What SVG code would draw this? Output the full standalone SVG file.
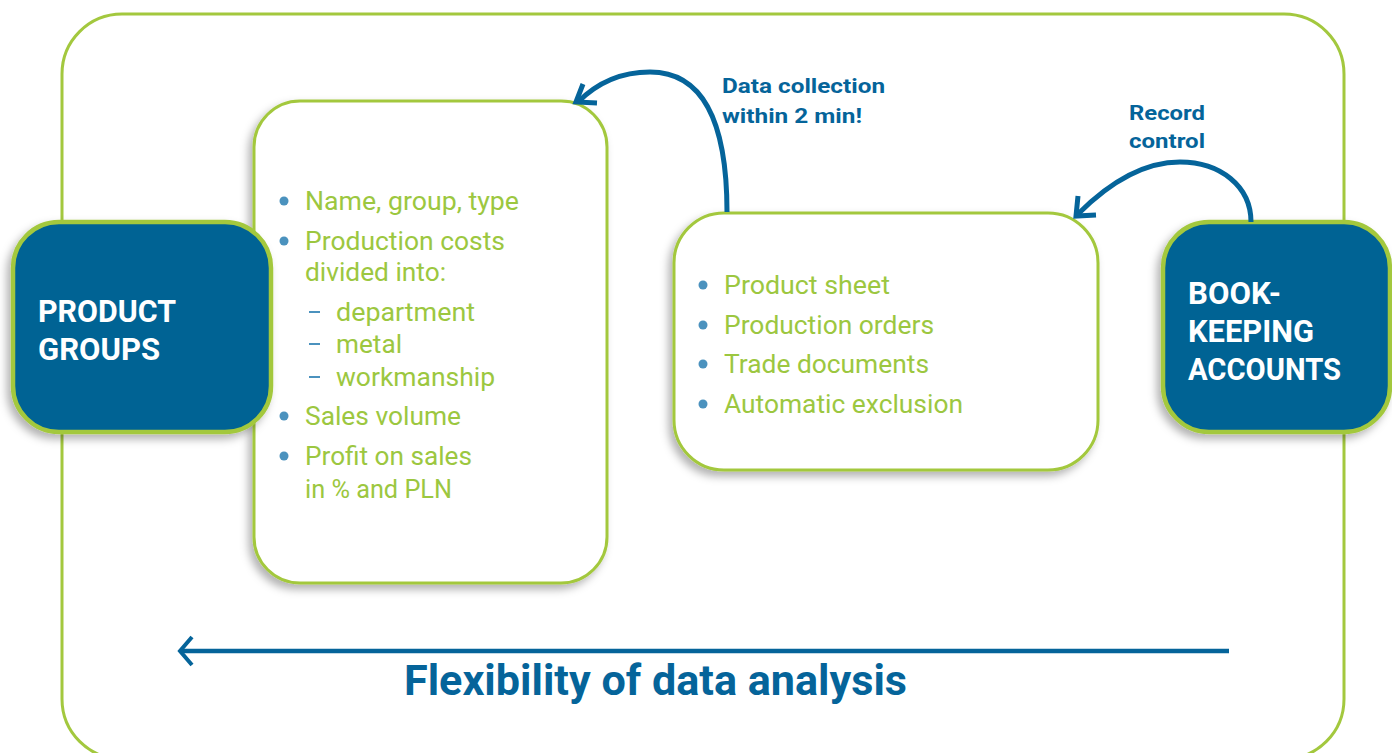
<svg xmlns="http://www.w3.org/2000/svg" width="1392" height="753" viewBox="0 0 1392 753">
<defs>
<filter id="sh" x="-20%" y="-20%" width="140%" height="140%">
<feDropShadow dx="-4" dy="5" stdDeviation="4" flood-color="#000" flood-opacity="0.3"/>
</filter>
<style>
.frame{fill:none;stroke:#a3c83e;stroke-width:3}
.card{fill:#fff;stroke:#a3c83e;stroke-width:3;filter:url(#sh)}
.dark{fill:#006394;stroke:#a3c83e;stroke-width:4.5;filter:url(#sh)}
.item{font-family:Roboto,"Liberation Sans",sans-serif;font-size:26px;fill:#9cc740}
.head{font-family:Roboto,"Liberation Sans",sans-serif;font-weight:bold;font-size:31px;fill:#fff}
.lbl{font-family:Roboto,"Liberation Sans",sans-serif;font-weight:bold;font-size:21px;fill:#05649a}
.dot{fill:#4b92be}
.dash{stroke:#4b92be;stroke-width:2}
.arr{fill:none;stroke:#05649a;stroke-width:5;stroke-linecap:butt}
.head-a{fill:none;stroke:#05649a;stroke-width:5;stroke-linejoin:miter}
</style>
</defs>
<rect width="1392" height="753" fill="#fff"/>
<rect class="frame" x="62" y="14" width="1282" height="745" rx="60"/>
<g id="details-card">
<rect class="card" x="254" y="101" width="353" height="482" rx="46"/>
<circle class="dot" cx="284" cy="201" r="4.5"/>
<text class="item" x="305" y="210" textLength="214" lengthAdjust="spacingAndGlyphs">Name, group, type</text>
<circle class="dot" cx="284" cy="241" r="4.5"/>
<text class="item" x="305" y="250" textLength="200" lengthAdjust="spacingAndGlyphs">Production costs</text>
<text class="item" x="305" y="281" textLength="141" lengthAdjust="spacingAndGlyphs">divided into:</text>
<line class="dash" x1="309" y1="312" x2="320" y2="312"/>
<text class="item" x="336" y="321" textLength="139" lengthAdjust="spacingAndGlyphs">department</text>
<line class="dash" x1="309" y1="344" x2="320" y2="344"/>
<text class="item" x="336" y="353" textLength="66" lengthAdjust="spacingAndGlyphs">metal</text>
<line class="dash" x1="309" y1="377" x2="320" y2="377"/>
<text class="item" x="336" y="386" textLength="159" lengthAdjust="spacingAndGlyphs">workmanship</text>
<circle class="dot" cx="284" cy="416" r="4.5"/>
<text class="item" x="305" y="425" textLength="156" lengthAdjust="spacingAndGlyphs">Sales volume</text>
<circle class="dot" cx="284" cy="456" r="4.5"/>
<text class="item" x="305" y="465" textLength="167" lengthAdjust="spacingAndGlyphs">Profit on sales</text>
<text class="item" x="305" y="498" textLength="147" lengthAdjust="spacingAndGlyphs">in % and PLN</text>
</g>
<g id="documents-card">
<rect class="card" x="674" y="213" width="424" height="257" rx="50"/>
<circle class="dot" cx="703" cy="285" r="4.5"/>
<text class="item" x="724" y="294" textLength="166" lengthAdjust="spacingAndGlyphs">Product sheet</text>
<circle class="dot" cx="703" cy="325" r="4.5"/>
<text class="item" x="724" y="334" textLength="210" lengthAdjust="spacingAndGlyphs">Production orders</text>
<circle class="dot" cx="703" cy="364" r="4.5"/>
<text class="item" x="724" y="373" textLength="205" lengthAdjust="spacingAndGlyphs">Trade documents</text>
<circle class="dot" cx="703" cy="404" r="4.5"/>
<text class="item" x="724" y="413" textLength="239" lengthAdjust="spacingAndGlyphs">Automatic exclusion</text>
</g>
<g id="product-groups">
<rect class="dark" x="13" y="222" width="258" height="210" rx="46"/>
<text class="head" x="38" y="322" textLength="138" lengthAdjust="spacingAndGlyphs">PRODUCT</text>
<text class="head" x="38" y="360" textLength="122" lengthAdjust="spacingAndGlyphs">GROUPS</text>
</g>
<g id="bookkeeping-accounts">
<rect class="dark" x="1163" y="222" width="227" height="210" rx="46"/>
<text class="head" x="1188" y="304" textLength="93" lengthAdjust="spacingAndGlyphs">BOOK-</text>
<text class="head" x="1188" y="342" textLength="126" lengthAdjust="spacingAndGlyphs">KEEPING</text>
<text class="head" x="1188" y="380" textLength="153" lengthAdjust="spacingAndGlyphs">ACCOUNTS</text>
</g>
<g id="connectors">
<path class="arr" d="M727,212 C727,140 712,72 650,72 C615,72 592,88 578,102"/>
<polyline class="head-a" points="583,84 576,102 597,103"/>
<text class="lbl" x="722" y="93" textLength="163" lengthAdjust="spacingAndGlyphs">Data collection</text>
<text class="lbl" x="722" y="123" textLength="140" lengthAdjust="spacingAndGlyphs">within 2 min!</text>
<path class="arr" d="M1251,222 C1251,186 1220,162 1180,162 C1137,162 1102,190 1078,214"/>
<polyline class="head-a" points="1078,196 1076,216 1096,215"/>
<text class="lbl" x="1129" y="120" textLength="76" lengthAdjust="spacingAndGlyphs">Record</text>
<text class="lbl" x="1129" y="148" textLength="76" lengthAdjust="spacingAndGlyphs">control</text>
<line x1="181" y1="651" x2="1229" y2="651" stroke="#05649a" stroke-width="4.5"/>
<polyline points="192,637 180,651 192,665" fill="none" stroke="#05649a" stroke-width="4"/>
<text x="404" y="695" font-family="Roboto,'Liberation Sans',sans-serif" font-weight="bold" font-size="42" fill="#05649a" textLength="503" lengthAdjust="spacingAndGlyphs">Flexibility of data analysis</text>
</g>
</svg>
